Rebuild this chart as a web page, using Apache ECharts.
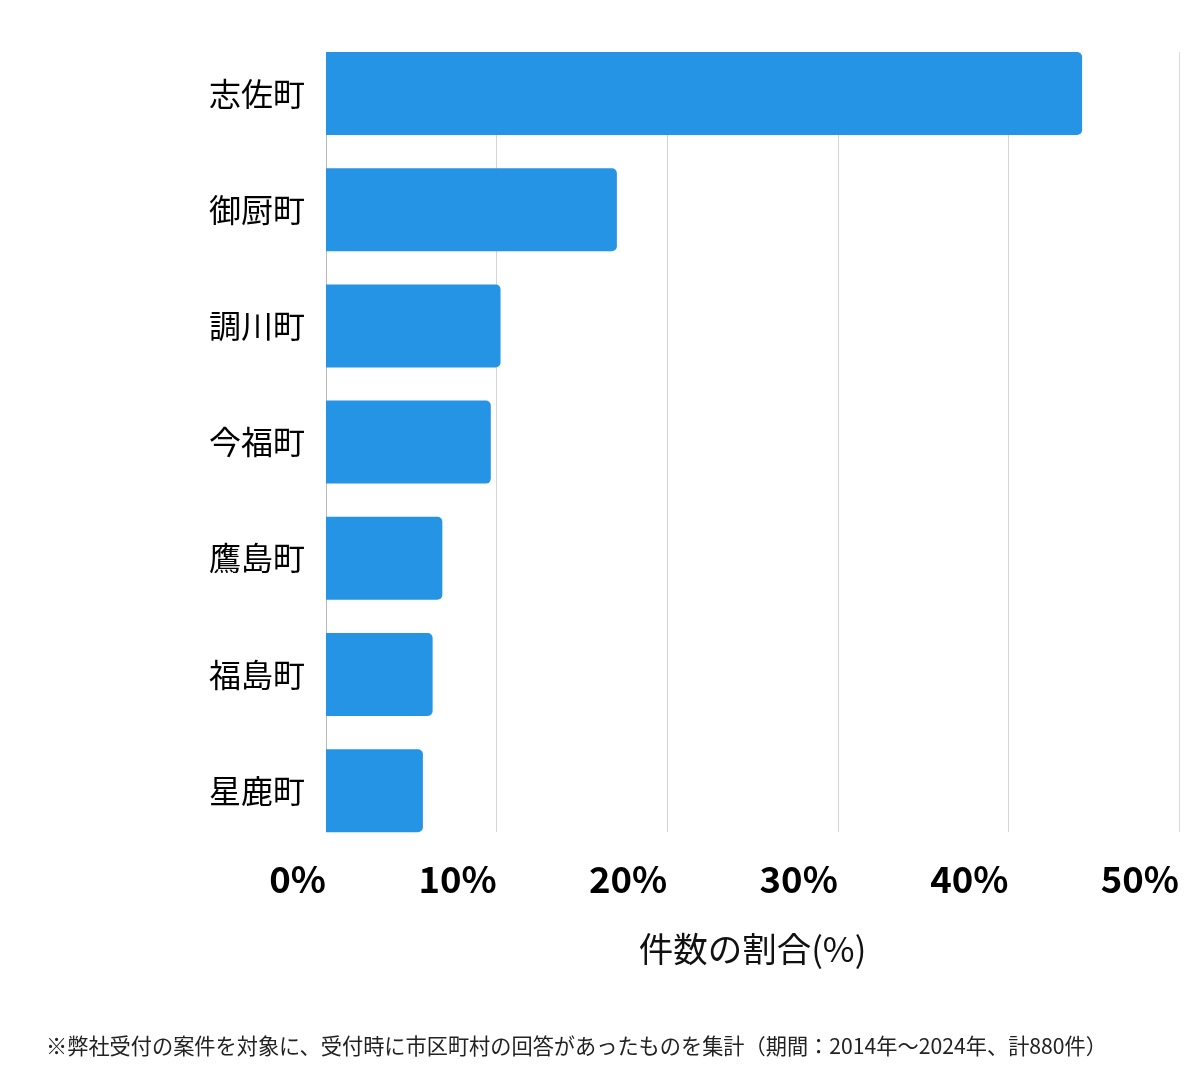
<!DOCTYPE html>
<html><head><meta charset="utf-8">
<script src="https://cdn.jsdelivr.net/npm/echarts@6/dist/echarts.min.js"></script>
<style>html,body{margin:0;padding:0;background:#fff}#c{width:1200px;height:1069px}</style>
</head><body><div id="c"></div>
<script>
const categories = ['志佐町','御厨町','調川町','今福町','鷹島町','福島町','星鹿町'];
const values = [44.32, 17.05, 10.23, 9.66, 6.82, 6.25, 5.68];
const xTicks = [0, 10, 20, 30, 40, 50];
const axisTitle = '件数の割合(%)';
const note = '※弊社受付の案件を対象に、受付時に市区町村の回答があったものを集計（期間：2014年～2024年、計880件）';

const FONT = '"Noto Sans CJK JP", "Noto Sans", sans-serif';
const chart = echarts.init(document.getElementById('c'), null, {renderer: 'canvas'});
chart.setOption({
  animation: false,
  textStyle: {fontFamily: FONT},
  title: {
    text: note, left: 41, top: 1030,
    textStyle: {fontSize: 21.2, fontWeight: 'normal', color: '#222', fontFamily: FONT}
  },
  grid: [
    {left: 326, right: 21, top: 35.4, height: 813.4, containLabel: false},
    {left: 326, right: 21, top: 52, height: 780, containLabel: false}
  ],
  xAxis: [
    {
      gridIndex: 0, type: 'value', min: xTicks[0], max: xTicks[xTicks.length-1], interval: 10,
      axisLine: {show: false}, axisTick: {show: false}, splitLine: {show: false},
      axisLabel: {
        formatter: v => v + '%', align: 'right', margin: 12,
        fontSize: 36.5, fontWeight: 'bold', color: '#000', fontFamily: FONT
      },
      name: axisTitle, nameLocation: 'middle', nameGap: 83,
      nameTextStyle: {fontSize: 34.5, color: '#111', fontFamily: FONT}
    },
    {
      gridIndex: 1, type: 'value', min: xTicks[0], max: xTicks[xTicks.length-1], interval: 10,
      axisLine: {show: false}, axisTick: {show: false}, axisLabel: {show: false},
      splitLine: {show: true, lineStyle: {color: ['#b8b8b8','#d4d4d4','#d4d4d4','#d4d4d4','#d4d4d4','#dcdcdc'], width: 1}}
    }
  ],
  yAxis: [
    {
      gridIndex: 0, type: 'category', data: categories, inverse: true,
      axisLine: {show: false}, axisTick: {show: false},
      axisLabel: {fontSize: 32, color: '#000', margin: 21, fontFamily: FONT}
    },
    {gridIndex: 1, type: 'value', min: 0, max: 1, show: false}
  ],
  series: [{
    type: 'bar', xAxisIndex: 0, yAxisIndex: 0, data: values,
    barWidth: 83,
    itemStyle: {color: '#2594e5', borderRadius: [0, 5, 5, 0]},
    z: 3
  }]
});
</script></body></html>
